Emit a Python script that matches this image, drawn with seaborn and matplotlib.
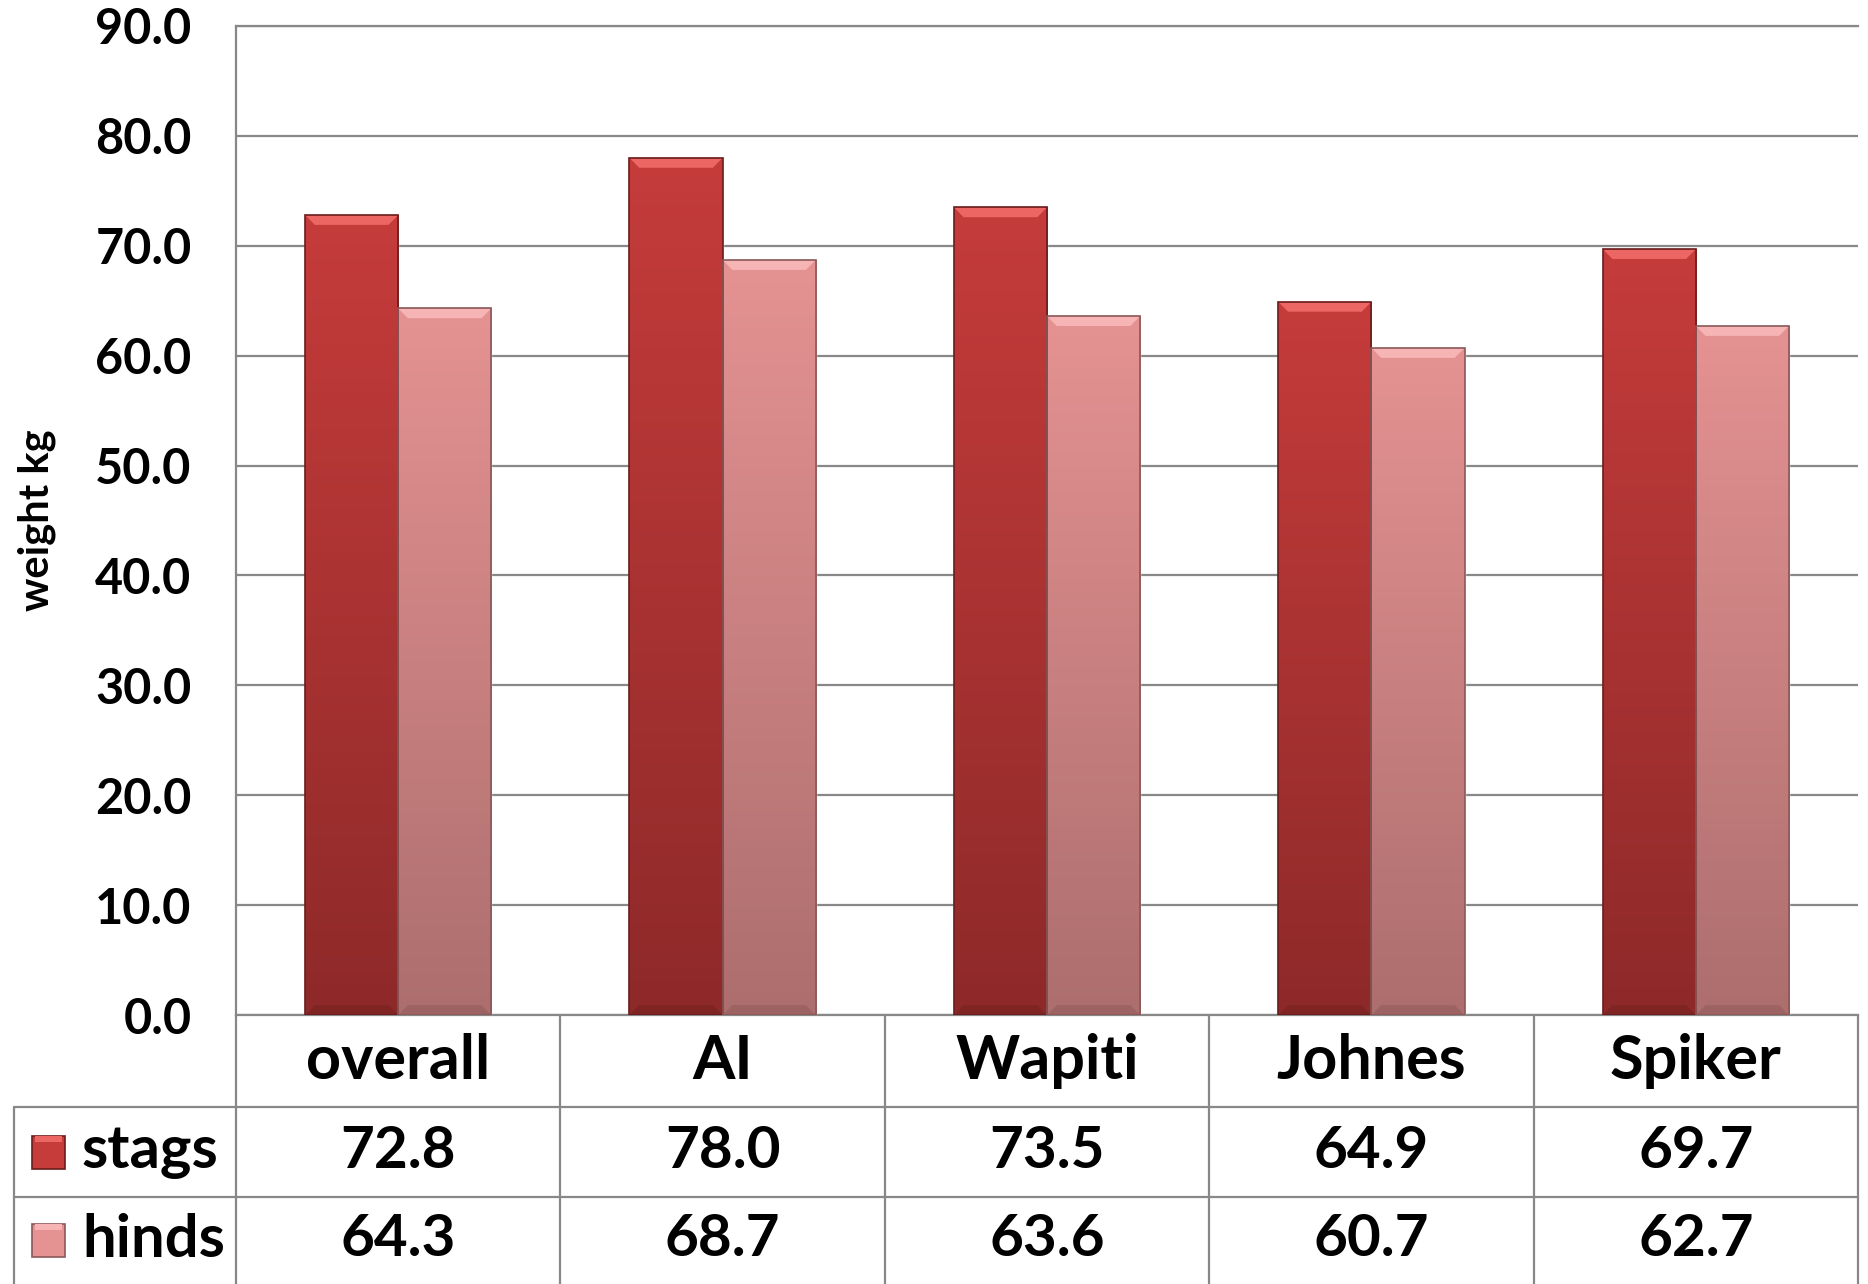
import numpy as np
import pandas as pd
import matplotlib
matplotlib.use("Agg")
import matplotlib.pyplot as plt
import seaborn as sns
from matplotlib.colors import LinearSegmentedColormap
from matplotlib.patches import Polygon, Rectangle
from matplotlib.lines import Line2D

categories = ['overall', 'AI', 'Wapiti', 'Johnes', 'Spiker']
series = ['stags', 'hinds']
stags = [72.8, 78.0, 73.5, 64.9, 69.7]
hinds = [64.3, 68.7, 63.6, 60.7, 62.7]
yticks = [0, 10, 20, 30, 40, 50, 60, 70, 80, 90]

df = pd.DataFrame({
    'category': categories * 2,
    'weight': stags + hinds,
    'sex': ['stags'] * len(stags) + ['hinds'] * len(hinds),
})

# bar looks: (top, bottom, highlight, shadow, edge)
looks = {
    'stags': ('#c53c3b', '#8e2929', '#ec6664', '#782020', '#6a1c1c'),
    'hinds': ('#e59292', '#ad6e6e', '#f7b4b4', '#935c5c', '#8a5858'),
}

sns.set_style('white')
plt.rcParams['font.family'] = ['Lato', 'DejaVu Sans']
plt.rcParams['font.weight'] = 'bold'
plt.rcParams['text.color'] = 'black'
plt.rcParams['axes.labelcolor'] = 'black'
plt.rcParams['ytick.color'] = 'black'

W, H = 1868, 1284
fig = plt.figure(figsize=(W / 100, H / 100), dpi=100)
ax = fig.add_axes([236 / W, 269 / H, 1622 / W, 989 / H])

sns.barplot(data=df, x='category', y='weight', hue='sex', hue_order=series,
            palette=[looks[s][0] for s in series], width=0.574, saturation=1,
            legend=False, ax=ax, zorder=3)

ax.set_xlim(-0.5, len(categories) - 0.5)
ax.set_ylim(0, 90)
ax.set_yticks(yticks)
ax.yaxis.set_major_formatter('{x:.1f}')
ax.tick_params(axis='y', length=0, pad=32, labelsize=35, labelcolor='black')
ax.set_xticks([])
ax.set_xlabel('')
ax.set_ylabel('weight kg', fontsize=30, fontweight='bold', color='black')
ax.yaxis.set_label_coords(-0.111, 0.5)

grid_c = '#888888'
ax.yaxis.grid(True, color=grid_c, lw=1.6)
ax.set_axisbelow(True)
for side in ['left', 'bottom', 'top']:
    ax.spines[side].set_color(grid_c)
    ax.spines[side].set_linewidth(1.6)
ax.spines['right'].set_visible(False)

# gradient + bevel on each bar
n = len(categories)
for k, patch in enumerate(ax.patches[:2 * n]):
    s = series[k // n]
    top, bot, hi, sh, edge = looks[s]
    x0, w, h = patch.get_x(), patch.get_width(), patch.get_height()
    cmap = LinearSegmentedColormap.from_list(s, [bot, top])
    grad = np.linspace(0, 1, 256).reshape(-1, 1)
    im = ax.imshow(grad, cmap=cmap, origin='lower', aspect='auto',
                   extent=[x0, x0 + w, 0, h], zorder=3.1)
    im.set_clip_path(patch)
    dx, dy = 0.03, 0.9
    ax.add_patch(Polygon([[x0, h], [x0 + w, h], [x0 + w - dx, h - dy], [x0 + dx, h - dy]],
                         closed=True, facecolor=hi, edgecolor='none', zorder=3.2))
    ax.add_patch(Polygon([[x0, 0], [x0 + w, 0], [x0 + w - dx, dy], [x0 + dx, dy]],
                         closed=True, facecolor=sh, edgecolor='none', alpha=0.6, zorder=3.2))
    ax.add_patch(Rectangle((x0, 0), w, h, facecolor='none', edgecolor=edge,
                           lw=1.2, zorder=3.3))
ax.set_xlim(-0.5, len(categories) - 0.5)
ax.set_ylim(0, 90)

# data table below the chart
def fx(px):
    return px / W


def fy(py):
    return 1 - py / H


trans = ax.get_xaxis_transform()
row_top, row1, row2, row_bot = 1015, 1107, 1197, 1284
def ay(py):
    return (1015 - py) / 989


for i in range(n + 1):
    ax.add_line(Line2D([i - 0.5, i - 0.5], [0, ay(row_bot)], transform=trans,
                       color=grid_c, lw=1.6, clip_on=False))
for py in [row1, row2]:
    fig.add_artist(Line2D([fx(14), fx(1858)], [fy(py), fy(py)], color=grid_c, lw=1.6))
fig.add_artist(Line2D([fx(14), fx(14)], [fy(row1), fy(row_bot)], color=grid_c, lw=1.6))

for i, cat in enumerate(categories):
    ax.text(i, ay(1061), cat, transform=trans, ha='center', va='center',
            fontsize=44, fontweight='bold', color='black', clip_on=False)
    ax.text(i, ay(1152), f'{stags[i]:.1f}', transform=trans, ha='center', va='center',
            fontsize=42, fontweight='bold', color='black', clip_on=False)
    ax.text(i, ay(1240), f'{hinds[i]:.1f}', transform=trans, ha='center', va='center',
            fontsize=42, fontweight='bold', color='black', clip_on=False)

for s, cy in zip(series, [1152, 1240]):
    top, bot, hi, sh, edge = looks[s]
    fig.add_artist(Rectangle((fx(32), fy(cy + 17)), fx(33), 33 / H,
                             facecolor=top, edgecolor=edge, lw=1.2))
    fig.add_artist(Rectangle((fx(35), fy(cy - 10)), fx(27), 6 / H,
                             facecolor=hi, edgecolor='none'))
    fig.text(fx(82), fy(cy), s, ha='left', va='center', fontsize=43,
             fontweight='bold', color='black')

fig.savefig('out.png', dpi=100)
plt.close(fig)
